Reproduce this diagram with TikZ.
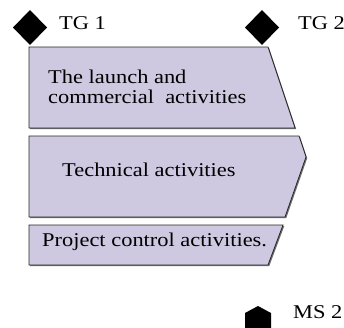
\documentclass[tikz,border=0pt]{standalone}
\usepackage{fontspec}
\setmainfont[FakeStretch=1.15]{Liberation Serif}
\usetikzlibrary{shadows}

\definecolor{lavanda}{RGB}{206,201,225}

\tikzset{
  faixa/.style={draw=black!85, line width=0.8pt, fill=lavanda,
    drop shadow={shadow xshift=1.2pt, shadow yshift=-1.2pt, fill=black!70, opacity=0.8}},
  rotulo/.style={font=\fontsize{19.5}{20}\selectfont, inner sep=0pt, anchor=base west},
  marco/.style={fill=black}
}

\begin{document}
\begin{tikzpicture}[x=1pt, y=1pt]
    \useasboundingbox (0,0) rectangle (344,-327);

    % marcos de decisao
    \fill[marco] (30,-10) -- (47,-27.5) -- (30,-45) -- (13,-27.5) -- cycle;
    \fill[marco] (262,-10) -- (279,-27.5) -- (262,-45) -- (245,-27.5) -- cycle;
    \node[rotulo] (tg1) at (59,-29) {TG 1};
    \node[rotulo] (tg2) at (298,-29) {TG 2};

    % faixas de atividades
    \draw[faixa] (29,-47) -- (268,-47) -- (295,-128) -- (29,-128) -- cycle;
    \draw[faixa] (29,-136) -- (299,-136) -- (306,-157) -- (285,-217) -- (29,-217) -- cycle;
    \draw[faixa] (29,-225) -- (283,-225) -- (268,-265) -- (29,-265) -- cycle;

    % textos
    \node[rotulo, align=left] (lanc) at (48,-103) {The launch and\\commercial\ \ activities};
    \node[rotulo] (tec) at (62,-176) {Technical activities};
    \node[rotulo] (ctrl) at (42,-246) {Project control activities.};

    % marco final
    \fill[marco] (245,-330) -- (245,-313) -- (258,-306) -- (271,-313) -- (271,-330) -- cycle;
    \node[rotulo] (ms2) at (293,-318) {MS 2};
\end{tikzpicture}
\end{document}
